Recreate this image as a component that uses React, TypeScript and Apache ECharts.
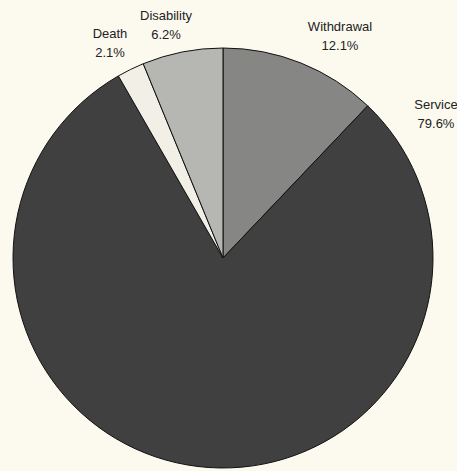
import React, { useEffect, useRef } from "react";
import * as echarts from "echarts";

const categories = ["Withdrawal", "Service", "Death", "Disability"];
const values = [12.1, 79.6, 2.1, 6.2];
const colors = ["#868684", "#404040", "#f1efe6", "#b6b6b2"];
// label anchor (center of two-line label block) in pixels
const labelPos: [number, number][] = [
  [340, 36],
  [436, 114],
  [110, 43],
  [166, 25],
];

export default function App() {
  const ref = useRef<HTMLDivElement>(null);
  useEffect(() => {
    if (!ref.current) return;
    const chart = echarts.init(ref.current, undefined, { renderer: "svg" });
    chart.setOption({
      animation: false,
      backgroundColor: "#fcfaef",
      series: [
        {
          type: "pie",
          center: [223, 258],
          radius: 210,
          startAngle: 90,
          clockwise: true,
          avoidLabelOverlap: false,
          data: categories.map((c, i) => ({
            name: c,
            value: values[i],
            itemStyle: { color: colors[i] },
          })),
          itemStyle: { borderColor: "#111", borderWidth: 1 },
          label: {
            show: true,
            position: "outside",
            formatter: (p: any) => `${p.name}\n${p.value.toFixed(1)}%`,
            fontFamily: "Liberation Sans, Arial, sans-serif",
            fontSize: 13,
            lineHeight: 19,
            color: "#222",
            align: "center",
          },
          labelLine: { show: false },
          labelLayout: (params: any) => {
            const pos = labelPos[params.dataIndex];
            return {
              x: pos[0],
              y: pos[1],
              align: "center",
              verticalAlign: "middle",
            };
          },
          emphasis: { disabled: true },
        },
      ],
    });
    return () => chart.dispose();
  }, []);
  return (
    <div
      ref={ref}
      style={{ position: "fixed", left: 0, top: 0, width: 457, height: 471 }}
    />
  );
}
